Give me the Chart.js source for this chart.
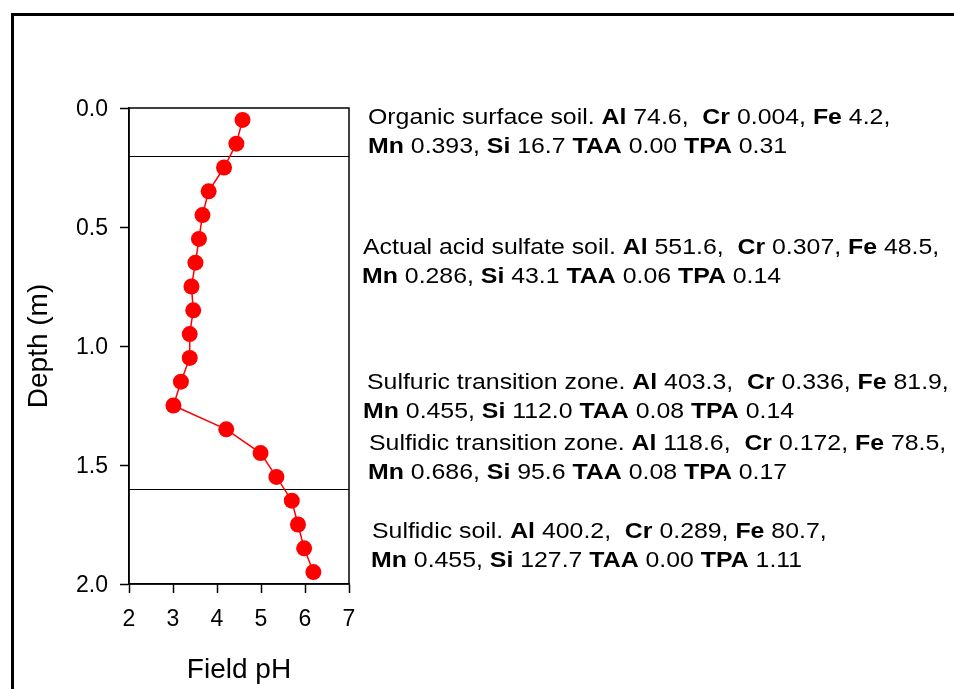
<!DOCTYPE html>
<html lang="en">
<head>
<meta charset="UTF-8" />
<title>Field pH profile</title>
<script src="https://cdn.jsdelivr.net/npm/chart.js"></script>
<style>
  html, body { margin: 0; padding: 0; background: #fff; overflow: hidden; }
  #frame {
    position: absolute; left: 11px; top: 13px;
    width: 1000px; height: 1000px;
    border-top: 3px solid #000; border-left: 3px solid #000;
  }
  #chart { position: absolute; left: 0; top: 0; }
</style>
</head>
<body>
<div id="frame"></div>
<canvas id="chart" width="954" height="689"></canvas>

<script>
  // profile samples
  const depth = [0.05, 0.15, 0.25, 0.35, 0.45, 0.55, 0.65, 0.75, 0.85, 0.95,
                 1.05, 1.15, 1.25, 1.35, 1.45, 1.55, 1.65, 1.75, 1.85, 1.95];
  const fieldPH = [4.58, 4.44, 4.16, 3.81, 3.67, 3.59, 3.51, 3.42, 3.46, 3.38,
                   3.38, 3.18, 3.01, 4.21, 4.99, 5.35, 5.70, 5.84, 5.98, 6.19];

  // horizon boundaries (m)
  const zoneBounds = [0.2, 1.6];

  // notes beside the profile, ** marks bold text
  const noteDepths = [0.042, 0.586, 1.155, 1.41, 1.782];
  const noteLines = [
    ["Organic surface soil. **Al** 74.6,  **Cr** 0.004, **Fe** 4.2,",
     "**Mn** 0.393, **Si** 16.7 **TAA** 0.00 **TPA** 0.31"],
    ["Actual acid sulfate soil. **Al** 551.6,  **Cr** 0.307, **Fe** 48.5,",
     "**Mn** 0.286, **Si** 43.1 **TAA** 0.06 **TPA** 0.14"],
    ["Sulfuric transition zone. **Al** 403.3,  **Cr** 0.336, **Fe** 81.9,",
     "**Mn** 0.455, **Si** 112.0 **TAA** 0.08 **TPA** 0.14"],
    ["Sulfidic transition zone. **Al** 118.6,  **Cr** 0.172, **Fe** 78.5,",
     "**Mn** 0.686, **Si** 95.6 **TAA** 0.08 **TPA** 0.17"],
    ["Sulfidic soil. **Al** 400.2,  **Cr** 0.289, **Fe** 80.7,",
     "**Mn** 0.455, **Si** 127.7 **TAA** 0.00 **TPA** 1.11"]
  ];
  const noteIndent = [[19, 19], [14, 13], [18, 14], [20, 19], [23, 22]];

  const FONT = '"Liberation Sans", Arial, sans-serif';
  const STRETCH = 1.13; // the figure's note text is set a little wide

  function drawRich(ctx, text, x, y) {
    ctx.save();
    ctx.translate(x, y);
    ctx.scale(STRETCH, 1);
    let cx = 0;
    text.split("**").forEach((p, i) => {
      ctx.font = (i % 2 ? "bold " : "") + "22px " + FONT;
      ctx.fillText(p, cx, 0);
      cx += ctx.measureText(p).width;
    });
    ctx.restore();
  }

  const profileExtras = {
    id: "profileExtras",
    beforeDatasetsDraw(chart) {
      const { ctx, chartArea: a, scales } = chart;
      ctx.save();
      ctx.strokeStyle = "#000";
      ctx.lineWidth = 1.2;
      zoneBounds.forEach(d => {
        const y = Math.round(scales.y.getPixelForValue(d)) + 0.5;
        ctx.beginPath();
        ctx.moveTo(a.left, y);
        ctx.lineTo(a.right, y);
        ctx.stroke();
      });
      ctx.lineWidth = 1.5;
      ctx.strokeRect(a.left, a.top, a.right - a.left, a.bottom - a.top);
      ctx.restore();
    },
    afterDraw(chart) {
      const { ctx, chartArea: a, scales } = chart;
      ctx.save();
      ctx.fillStyle = "#000";
      ctx.textBaseline = "middle";
      ctx.textAlign = "left";
      noteLines.forEach((lines, i) => {
        const y0 = scales.y.getPixelForValue(noteDepths[i]);
        lines.forEach((line, j) => {
          drawRich(ctx, line, a.right + noteIndent[i][j], y0 + j * 29);
        });
      });
      ctx.restore();
    }
  };

  new Chart(document.getElementById("chart"), {
    type: "scatter",
    data: {
      datasets: [{
        data: depth.map((d, i) => ({ x: fieldPH[i], y: d })),
        showLine: true,
        borderColor: "#ff0000",
        backgroundColor: "#ff0000",
        borderWidth: 1.5,
        pointRadius: 8,
        pointHoverRadius: 8,
        pointBorderWidth: 0
      }]
    },
    options: {
      responsive: false,
      animation: false,
      layout: { padding: { left: 22, right: 605, top: 108, bottom: 0 } },
      plugins: {
        legend: { display: false },
        tooltip: { enabled: false }
      },
      scales: {
        x: {
          type: "linear",
          min: 2, max: 7,
          afterFit: s => { s.height = 105; },
          ticks: {
            stepSize: 1, color: "#000", padding: 13,
            font: { family: FONT, size: 23 }
          },
          grid: { drawOnChartArea: false, drawTicks: true, tickLength: 9, tickColor: "#000", tickWidth: 1.5 },
          border: { display: true, color: "#000", width: 1.5 },
          title: {
            display: true, text: "Field pH", color: "#000",
            font: { family: FONT, size: 28 }, padding: { top: 0, bottom: 2 }
          }
        },
        y: {
          type: "linear",
          reverse: true,
          min: 0, max: 2,
          afterFit: s => { s.width = 107; },
          ticks: {
            stepSize: 0.5, color: "#000", padding: 12, labelOffset: 2,
            font: { family: FONT, size: 23 },
            callback: v => v.toFixed(1)
          },
          grid: { drawOnChartArea: false, drawTicks: true, tickLength: 9, tickColor: "#000", tickWidth: 1.5 },
          border: { display: true, color: "#000", width: 1.5 },
          title: {
            display: true, text: "Depth (m)", color: "#000",
            font: { family: FONT, size: 28 }, padding: { top: 0, bottom: 0 }
          }
        }
      }
    },
    plugins: [profileExtras]
  });
</script>
</body>
</html>
